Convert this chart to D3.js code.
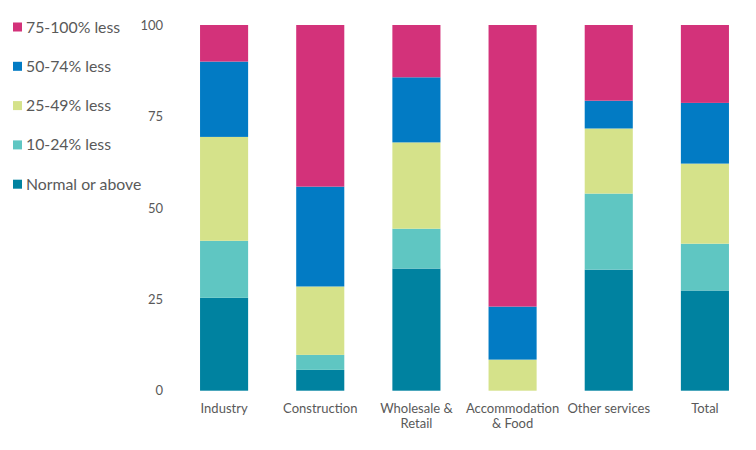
<!DOCTYPE html>
<html>
<head>
<meta charset="utf-8">
<script src="https://cdn.jsdelivr.net/npm/d3@7"></script>
<style>
  html, body { margin: 0; padding: 0; background: #fff; }
  svg { display: block; font-family: Lato, "Open Sans", sans-serif; }
</style>
</head>
<body>
<svg id="chart" width="756" height="450"></svg>
<script>
const categories = [["Industry"], ["Construction"], ["Wholesale &", "Retail"], ["Accommodation", "& Food"], ["Other services"], ["Total"]];
const seriesNames = ["Normal or above", "10-24% less", "25-49% less", "50-74% less", "75-100% less"];
const normalOrAbove = [25.4, 5.7, 33.4, 0, 33.1, 27.4];
const less10to24 = [15.6, 4.1, 10.9, 0, 20.8, 12.8];
const less25to49 = [28.4, 18.7, 23.6, 8.5, 17.8, 21.9];
const less50to74 = [20.6, 27.3, 17.8, 14.5, 7.6, 16.6];
const less75to100 = [10.0, 44.2, 14.3, 77.0, 20.7, 21.3];
const yTicks = [0, 25, 50, 75, 100];
const colors = ["#0082A0", "#5FC6C2", "#D5E28A", "#027BC4", "#D3327A"];

const seriesValues = [normalOrAbove, less10to24, less25to49, less50to74, less75to100];
const keys = categories.map(c => c.join(" "));
const rows = keys.map((k, i) => {
  const r = { key: k };
  seriesNames.forEach((s, j) => r[s] = seriesValues[j][i]);
  return r;
});

const svg = d3.select("#chart");
const x = d3.scaleBand().domain(keys).range([176, 753]).paddingInner(0.5).paddingOuter(0.25);
const y = d3.scaleLinear().domain([0, 100]).range([390.7, 25]);

const stack = d3.stack().keys(seriesNames)(rows);

svg.append("g").selectAll("g").data(stack).join("g")
  .attr("fill", (d, i) => colors[i])
  .selectAll("rect").data(d => d).join("rect")
  .attr("x", d => x(d.data.key))
  .attr("width", x.bandwidth())
  .attr("y", d => y(d[1]))
  .attr("height", d => Math.max(0, y(d[0]) - y(d[1])));

// Y axis
const yAxis = d3.axisLeft(y).tickValues(yTicks).tickSize(0).tickPadding(0);
const yg = svg.append("g").attr("transform", "translate(163,0)").call(yAxis);
yg.select(".domain").remove();
yg.selectAll("text").attr("fill", "#595959").style("font-size", "13px").style("font-family", "Lato, sans-serif");

// X axis
const xAxis = d3.axisBottom(x).tickSize(0).tickFormat(() => "");
const xg = svg.append("g").attr("transform", "translate(0,390.7)").call(xAxis);
xg.select(".domain").remove();
xg.selectAll(".tick").each(function(d, i) {
  const t = d3.select(this).append("text")
    .attr("fill", "#595959")
    .attr("text-anchor", "middle")
    .style("font-size", "13px")
    .style("font-family", "Lato, sans-serif");
  categories[i].forEach((line, j) => {
    t.append("tspan").attr("x", 0).attr("y", 22 + j * 15.5).text(line);
  });
});

// Legend (top to bottom: reverse order)
const legendOrder = seriesNames.map((s, i) => ({ name: s, color: colors[i] })).reverse();
const lg = svg.append("g");
legendOrder.forEach((d, i) => {
  const cy = 27 + i * 39.3;
  lg.append("rect").attr("x", 13).attr("y", cy - 4.5).attr("width", 9).attr("height", 9).attr("fill", d.color);
  lg.append("text").attr("x", 26).attr("y", cy).attr("dy", "0.35em")
    .attr("fill", "#595959").style("font-size", "15.8px").style("font-family", "Lato, sans-serif")
    .text(d.name);
});
</script>
</body>
</html>
